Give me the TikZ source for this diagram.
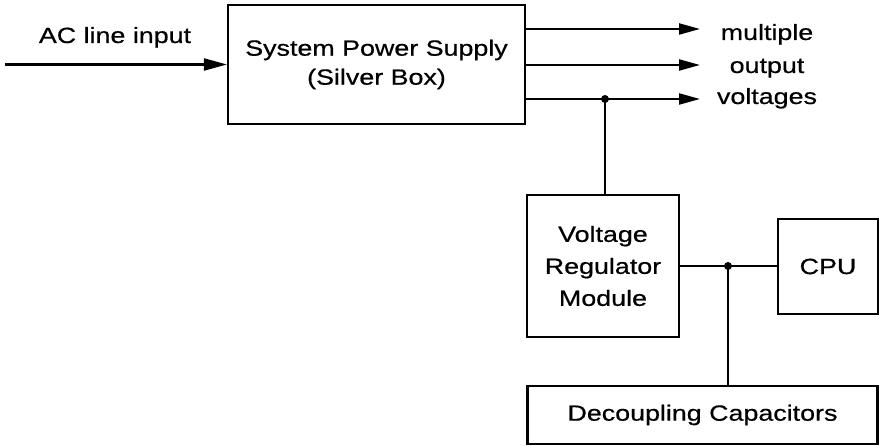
\documentclass[tikz,border=0pt]{standalone}
\usepackage{fontspec}
\setmainfont{Liberation Sans}[FakeStretch=1.22,FakeBold=0.6]
\usetikzlibrary{positioning,arrows.meta}

\begin{document}
\begin{tikzpicture}[x=1pt,y=1pt,line width=2.2pt,
  font=\fontsize{22}{29}\selectfont,
  blockbox/.style={draw,align=center,inner sep=0pt},
  feed/.style={-{Triangle[length=21pt,width=11pt]}},
  tap/.style={circle,fill,inner sep=0pt,minimum size=8pt}]
\useasboundingbox (0,0) rectangle (879,446);

% blocks
\node[blockbox,minimum width=297pt,minimum height=119pt] (psu) at (376.5,381.5) {System Power Supply\\(Silver Box)};
\node[blockbox,minimum width=152pt,minimum height=142pt,font=\fontsize{22}{32}\selectfont] (vrm) at (603,180) {Voltage\\Regulator\\Module};
\node[blockbox,minimum width=100pt,minimum height=95pt] (cpu) at (828,179.5) {CPU};
\node[blockbox,minimum width=350pt,minimum height=58pt] (dcap) at (702.5,31) {Decoupling Capacitors};

% input
\node[anchor=base] (aclabel) at (115,403) {AC line input};
\coordinate (acin) at (5,381.5);
\draw[-{Triangle[length=23pt,width=12pt]}] (acin) -- (psu.west);

% outputs
\coordinate (out1) at (700,417);
\coordinate (out2) at (700,381);
\coordinate (out3) at (700,347);
\draw[feed] (psu.east |- out1) -- (out1);
\draw[feed] (psu.east |- out2) -- (out2);
\draw[feed] (psu.east |- out3) -- (out3);
\node[anchor=base] (lbl1) at (767,406) {multiple};
\node[anchor=base] (lbl2) at (767,373) {output};
\node[anchor=base] (lbl3) at (767,342) {voltages};

\node[tap] (j1) at (605,347) {};
\draw (j1.center) -- (j1.center |- vrm.north);

% core supply
\draw (vrm.east) -- (vrm.east -| cpu.west);
\node[tap] (j2) at (728,180) {};
\draw (j2.center) -- (j2.center |- dcap.north);
\end{tikzpicture}
\end{document}
